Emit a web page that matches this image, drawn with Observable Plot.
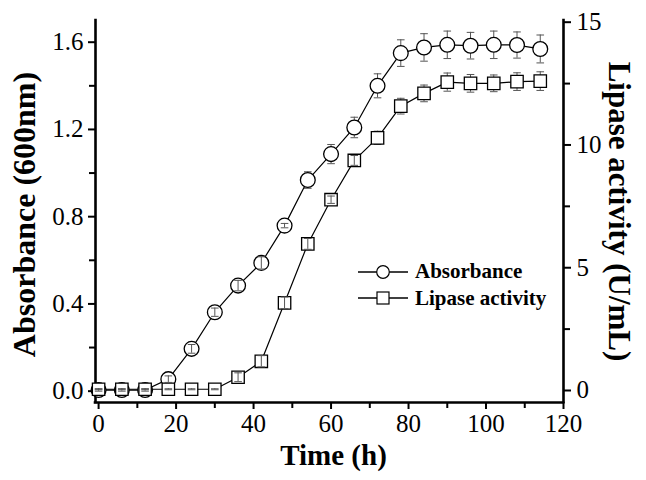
<!DOCTYPE html>
<html>
<head>
<meta charset="utf-8">
<script src="https://cdn.jsdelivr.net/npm/d3@7"></script>
<script src="https://cdn.jsdelivr.net/npm/@observablehq/plot@0.6"></script>
<style>
  body { margin: 0; background: #fff; }
  #chart { position: relative; width: 646px; height: 480px; font-family: "Liberation Serif", "Times New Roman", serif; }
  #legend { position: absolute; left: 358px; top: 258.4px; }
  #legend .row { display: flex; align-items: center; height: 26.6px; }
  #legend .row span { margin-left: 7px; font-weight: bold; font-size: 21px; line-height: 1; color: #000; white-space: nowrap; }
</style>
</head>
<body>
<div id="chart"></div>
<script>
// ---- data ----
const time = [0, 6, 12, 18, 24, 30, 36, 42, 48, 54, 60, 66, 72, 78, 84, 90, 96, 102, 108, 114];
const absorbance = [0.005, 0.005, 0.005, 0.055, 0.194, 0.362, 0.484, 0.588, 0.759, 0.968, 1.087, 1.209, 1.400, 1.550, 1.576, 1.588, 1.584, 1.588, 1.587, 1.569];
const absorbanceErr = [0.005, 0.005, 0.005, 0.015, 0.020, 0.019, 0.024, 0.028, 0.010, 0.038, 0.044, 0.047, 0.055, 0.061, 0.063, 0.063, 0.061, 0.063, 0.060, 0.064];
const lipase = [0.05, 0.05, 0.05, 0.05, 0.05, 0.05, 0.54, 1.19, 3.57, 5.97, 7.77, 9.37, 10.29, 11.58, 12.10, 12.56, 12.51, 12.51, 12.58, 12.60];
const lipaseErr = [0.02, 0.02, 0.02, 0.02, 0.02, 0.02, 0.18, 0.23, 0.24, 0.22, 0.15, 0.20, 0.27, 0.32, 0.34, 0.37, 0.36, 0.34, 0.36, 0.38];

const xTicks = [0, 20, 40, 60, 80, 100, 120];
const xMinorTicks = [10, 30, 50, 70, 90, 110];
const yLeftTicks = [0, 0.4, 0.8, 1.2, 1.6];
const yLeftMinorTicks = [0.2, 0.6, 1.0, 1.4];
const yRightTicks = [0, 5, 10, 15];
const yRightMinorTicks = [2.5, 7.5, 12.5];

const xTitle = "Time (h)";
const yLeftTitle = "Absorbance (600nm)";
const yRightTitle = "Lipase activity (U/mL)";
const seriesNames = ["Absorbance", "Lipase activity"];

// ---- scales ----
const xDomain = [-0.8, 120];
const yDomain = [-0.052, 1.6995];
const rDomain = [-0.489, 15.069];
const toLeft = v => yDomain[0] + (v - rDomain[0]) / (rDomain[1] - rDomain[0]) * (yDomain[1] - yDomain[0]);
const fromLeft = a => rDomain[0] + (a - yDomain[0]) / (yDomain[1] - yDomain[0]) * (rDomain[1] - rDomain[0]);

const rowsA = time.map((t, i) => ({t, y: absorbance[i], lo: absorbance[i] - absorbanceErr[i], hi: absorbance[i] + absorbanceErr[i], small: absorbanceErr[i] < 0.034}));
const rowsL = time.map((t, i) => ({t, y: toLeft(lipase[i]), lo: toLeft(lipase[i] - lipaseErr[i]), hi: toLeft(lipase[i] + lipaseErr[i]), small: lipaseErr[i] < 0.25}));

const capSymbol = {
  draw(ctx, size) {
    const w = Math.sqrt(size / Math.PI);
    ctx.moveTo(-w, 0);
    ctx.lineTo(w, 0);
  }
};
const errColor = "#555";

function errorBars(rows, filter) {
  const opts = filter ? {filter: d => d.small} : {};
  return [
    Plot.ruleX(rows, {...opts, x: "t", y1: "lo", y2: "hi", stroke: errColor, strokeWidth: 1}),
    Plot.dot(rows, {...opts, x: "t", y: "hi", symbol: capSymbol, r: 3.8, fill: "none", stroke: errColor, strokeWidth: 1}),
    Plot.dot(rows, {...opts, x: "t", y: "lo", symbol: capSymbol, r: 3.8, fill: "none", stroke: errColor, strokeWidth: 1})
  ];
}

const chart = Plot.plot({
  width: 646,
  height: 480,
  marginLeft: 95,
  marginRight: 83,
  marginTop: 20,
  marginBottom: 78,
  style: {fontFamily: '"Liberation Serif", "Times New Roman", serif', fontSize: "25px", color: "#000", background: "#fff"},
  x: {domain: xDomain},
  y: {domain: yDomain},
  marks: [
    // axes
    Plot.axisX({ticks: xTicks, tickSize: 7, tickPadding: 5, strokeWidth: 2, label: null, tickFormat: d3.format("d")}),
    Plot.axisX({ticks: xMinorTicks, tickSize: 6, strokeWidth: 2, label: null, tickFormat: () => ""}),
    Plot.axisY({ticks: yLeftTicks, tickSize: 7, tickPadding: 5, strokeWidth: 2, label: null, tickFormat: d3.format(".1f")}),
    Plot.axisY({ticks: yLeftMinorTicks, tickSize: 6, strokeWidth: 2, label: null, tickFormat: () => ""}),
    Plot.axisY({anchor: "right", ticks: yRightTicks.map(toLeft), tickSize: 7, tickPadding: 6, strokeWidth: 2, label: null, tickFormat: d => String(Math.round(fromLeft(d)))}),
    Plot.axisY({anchor: "right", ticks: yRightMinorTicks.map(toLeft), tickSize: 6, strokeWidth: 2, label: null, tickFormat: () => ""}),
    Plot.ruleX([xDomain[0], xDomain[1]], {stroke: "#000", strokeWidth: 2.6, strokeLinecap: "square"}),
    Plot.ruleY([yDomain[0]], {stroke: "#000", strokeWidth: 2.6, strokeLinecap: "square"}),
    // titles
    Plot.text([xTitle], {frameAnchor: "bottom", textAnchor: "middle", dx: 4, dy: 62, fontSize: 29, fontWeight: "bold"}),
    Plot.text([yLeftTitle], {frameAnchor: "left", textAnchor: "middle", dx: -71, dy: 3, rotate: -90, fontSize: 32, fontWeight: "bold"}),
    Plot.text([yRightTitle], {frameAnchor: "right", textAnchor: "middle", dx: 55, dy: 0, rotate: 90, fontSize: 31, fontWeight: "bold"}),
    // error bars behind markers
    ...errorBars(rowsA, false),
    ...errorBars(rowsL, false),
    // connecting lines
    Plot.line(rowsA, {x: "t", y: "y", stroke: "#000", strokeWidth: 1.2}),
    Plot.line(rowsL, {x: "t", y: "y", stroke: "#000", strokeWidth: 1.2}),
    // markers
    Plot.dot(rowsA, {x: "t", y: "y", r: 7.4, fill: "#fff", stroke: "#000", strokeWidth: 1.3}),
    Plot.dot(rowsL, {x: "t", y: "y", symbol: "square", r: 7, fill: "#fff", stroke: "#000", strokeWidth: 1.3}),
    // short error bars drawn over the markers
    ...errorBars(rowsA, true),
    ...errorBars(rowsL, true)
  ]
});

const host = document.getElementById("chart");
host.appendChild(chart);

// legend
const legend = document.createElement("div");
legend.id = "legend";
const legendSymbols = [
  '<circle cx="25" cy="10" r="6.3" fill="#fff" stroke="#000" stroke-width="1.2"/>',
  '<rect x="19" y="4" width="12" height="12" fill="#fff" stroke="#000" stroke-width="1.2"/>'
];
seriesNames.forEach((name, i) => {
  const row = document.createElement("div");
  row.className = "row";
  row.innerHTML = '<svg width="50" height="20" viewBox="0 0 50 20"><line x1="0" x2="50" y1="10" y2="10" stroke="#000" stroke-width="1.3"/>' + legendSymbols[i] + '</svg>';
  const label = document.createElement("span");
  label.textContent = name;
  row.appendChild(label);
  legend.appendChild(row);
});
host.appendChild(legend);
</script>
</body>
</html>
